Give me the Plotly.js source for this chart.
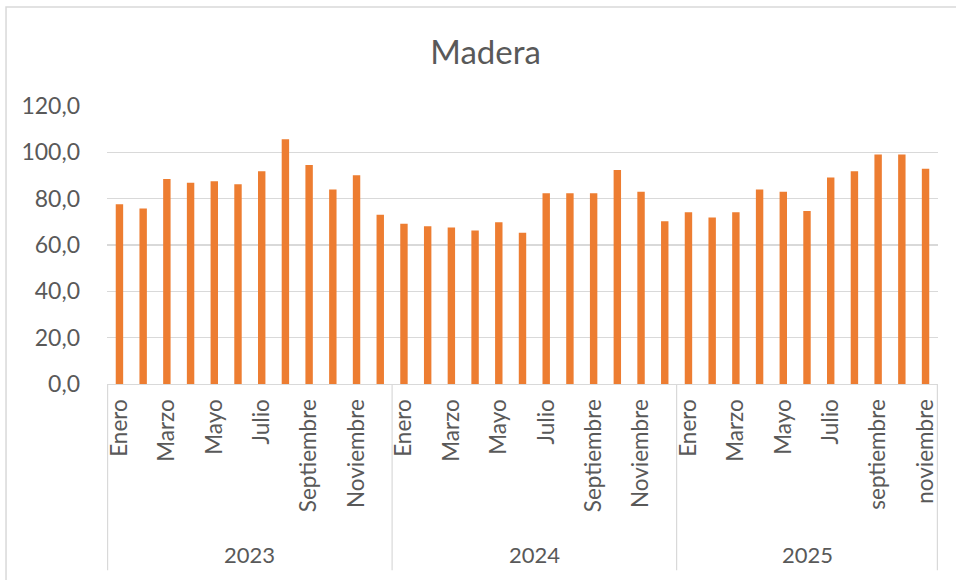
<!DOCTYPE html>
<html>
<head>
<meta charset="utf-8">
<script src="https://cdn.plot.ly/plotly-3.0.1.min.js"></script>
<style>
html,body{margin:0;padding:0;background:#fff;}
#chart{width:956px;height:580px;}
</style>
</head>
<body>
<div id="chart"></div>
<script>
// ---- data ----
const years = ['2023', '2024', '2025'];
const months2023 = ['Enero','Febrero','Marzo','Abril','Mayo','Junio','Julio','Agosto','Septiembre','Octubre','Noviembre','Diciembre'];
const months2024 = ['Enero','Febrero','Marzo','Abril','Mayo','Junio','Julio','Agosto','Septiembre','Octubre','Noviembre','Diciembre'];
const months2025 = ['Enero','Febrero','Marzo','Abril','Mayo','Junio','Julio','Agosto','septiembre','octubre','noviembre'];
const values2023 = [77.6, 75.8, 88.5, 86.9, 87.5, 86.2, 91.8, 105.6, 94.5, 84.0, 90.1, 73.1];
const values2024 = [69.2, 68.1, 67.6, 66.3, 69.8, 65.3, 82.3, 82.3, 82.3, 92.4, 83.0, 70.2];
const values2025 = [74.1, 71.9, 74.1, 84.0, 83.0, 74.7, 89.1, 91.8, 99.1, 99.1, 92.9];
const chartTitle = 'Madera';

// ---- build category axis ----
const groups = [
  {year: years[0], months: months2023, values: values2023},
  {year: years[1], months: months2024, values: values2024},
  {year: years[2], months: months2025, values: values2025}
];
const cats = [], vals = [], tickvals = [], ticktext = [];
const annotations = [], shapes = [];
let idx = 0;
const axisGray = '#D9D9D9';
const textGray = '#595959';
groups.forEach((g, gi) => {
  const start = idx;
  g.months.forEach((m, mi) => {
    const key = g.year + '-' + m;
    cats.push(key);
    vals.push(g.values[mi]);
    if (mi % 2 === 0) { tickvals.push(key); ticktext.push(m); }
    idx++;
  });
  const end = idx - 1;
  annotations.push({
    x: (start + end) / 2, xref: 'x', y: -0.615, yref: 'paper',
    text: g.year, showarrow: false, xanchor: 'center', yanchor: 'middle',
    font: {family: 'Lato', size: 22, color: textGray}
  });
  shapes.push({type: 'line', xref: 'x', yref: 'paper', x0: start - 0.5, x1: start - 0.5,
    y0: 0, y1: -0.67, line: {color: axisGray, width: 1.2}});
});
shapes.push({type: 'line', xref: 'x', yref: 'paper', x0: idx - 0.5, x1: idx - 0.5,
  y0: 0, y1: -0.67, line: {color: axisGray, width: 1.2}});
// outer chart frame
shapes.push({type: 'rect', xref: 'paper', yref: 'paper', x0: -0.1215, x1: 1.3, y0: -1.2, y1: 1.356,
  line: {color: axisGray, width: 1.5}, fillcolor: 'rgba(0,0,0,0)'});

const trace = {
  type: 'bar', x: cats, y: vals,
  marker: {color: '#ED7D31', line: {width: 0}},
  hoverinfo: 'skip'
};

const layout = {
  width: 956, height: 580,
  margin: {l: 107, r: 18, t: 106, b: 196},
  paper_bgcolor: '#fff', plot_bgcolor: '#fff',
  font: {family: 'Lato', color: textGray},
  separators: ',.',
  bargap: 0.687,
  showlegend: false,
  title: {text: chartTitle, xref: 'container', yref: 'container', x: 0.508, y: 0.91,
    xanchor: 'center', yanchor: 'middle', font: {family: 'Lato', size: 33, color: textGray}},
  xaxis: {
    type: 'category', tickmode: 'array', tickvals: tickvals, ticktext: ticktext,
    tickangle: -90, ticks: '', showgrid: false, showline: true, linecolor: axisGray, linewidth: 1.2,
    tickfont: {family: 'Lato', size: 22.5, color: textGray},
    ticklabelstandoff: 5, fixedrange: true
  },
  yaxis: {
    range: [0, 120], dtick: 20, tickformat: '.1f', ticks: '',
    showgrid: true, gridcolor: axisGray, gridwidth: 1.2, zeroline: false, showline: false,
    tickfont: {family: 'Lato', size: 23, color: textGray},
    ticklabelstandoff: 26, fixedrange: true
  },
  annotations: annotations,
  shapes: shapes
};

Plotly.newPlot('chart', [trace], layout, {displayModeBar: false, staticPlot: true});
</script>
</body>
</html>
